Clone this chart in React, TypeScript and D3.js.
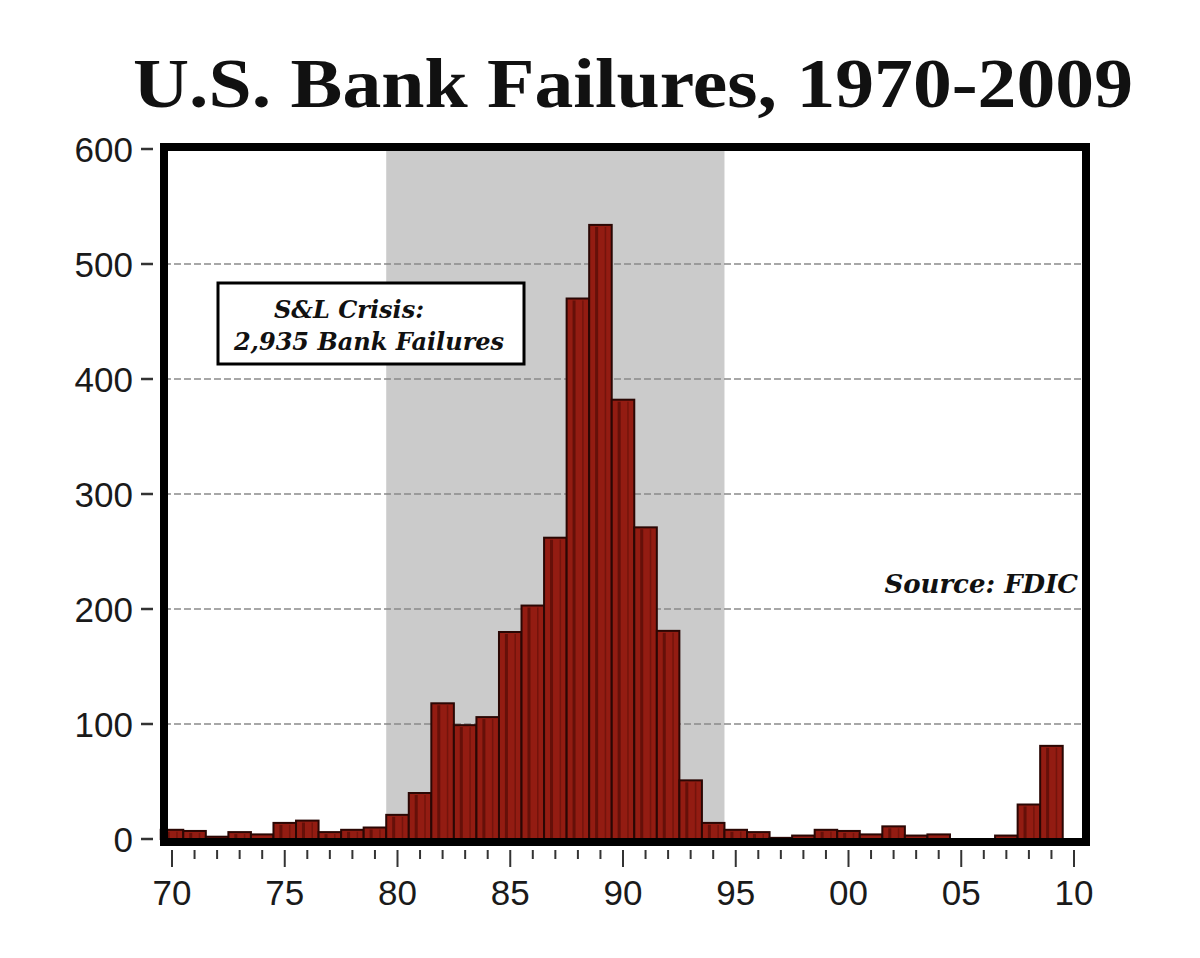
import React from "react";
import * as d3 from "d3";

const years = [1970,1971,1972,1973,1974,1975,1976,1977,1978,1979,1980,1981,1982,1983,1984,1985,1986,1987,1988,1989,1990,1991,1992,1993,1994,1995,1996,1997,1998,1999,2000,2001,2002,2003,2004,2005,2006,2007,2008,2009];
const failures = [8,7,2,6,4,14,16,6,8,10,21,40,118,99,106,180,203,262,470,534,382,271,181,51,14,8,6,1,3,8,7,4,11,3,4,0,0,3,30,81];
const yTicks = [0,100,200,300,400,500,600];
const xTickYears = [1970,1975,1980,1985,1990,1995,2000,2005,2010];
const xTickLabels = ["70","75","80","85","90","95","00","05","10"];
const minorTickYears = [1970,1971,1972,1973,1974,1975,1976,1977,1978,1979,1980,1981,1982,1983,1984,1985,1986,1987,1988,1989,1990,1991,1992,1993,1994,1995,1996,1997,1998,1999,2000,2001,2002,2003,2004,2005,2006,2007,2008,2009,2010];
const crisisStart = 1980;
const crisisEnd = 1994;

export default function App() {
  const W = 1200, H = 958;
  const x = d3.scaleLinear().domain([1970, 2010]).range([172, 1074]);
  const y = d3.scaleLinear().domain([0, 600]).range([839, 149]);
  const bw = x(1971) - x(1970);
  const left = 164, right = 1086, top = 147, bottom = 842;
  const sans = "'Liberation Sans', Arial, sans-serif";
  const serif = "'DejaVu Serif', Georgia, serif";
  return (
    <svg width={W} height={H} style={{ position: "absolute", left: 0, top: 0, background: "#fff" }}>
      <rect x={0} y={0} width={W} height={H} fill="#fff" />
      <text x={633} y={107} textAnchor="middle" fontFamily="'Liberation Serif', 'Times New Roman', serif" fontWeight="bold" fontSize={70} textLength={1000} lengthAdjust="spacingAndGlyphs" fill="#111">U.S. Bank Failures, 1970-2009</text>
      {/* crisis band */}
      <rect x={x(crisisStart) - bw / 2} y={top} width={x(crisisEnd) - x(crisisStart) + bw} height={bottom - top} fill="#cbcbcb" />
      {/* grid */}
      {yTicks.filter(t => t > 0 && t < 600).map(t => (
        <line key={"g" + t} x1={left} x2={right} y1={y(t)} y2={y(t)} stroke="#8a8a8a" strokeWidth={1.3} strokeDasharray="7,3" />
      ))}
      {/* bars */}
      {years.map((yr, i) => {
        const v = failures[i];
        const x0 = x(yr) - bw / 2;
        const yt = y(v);
        const h = y(0) - yt;
        if (h <= 0) return null;
        return (
          <g key={yr}>
            <rect x={x0} y={yt} width={bw} height={h} fill="#931c12" stroke="#2a0704" strokeWidth={2} />
            {h > 6 && (
              <>
                <line x1={x0 + bw * 0.33} x2={x0 + bw * 0.33} y1={yt + 2} y2={y(0)} stroke="#5e0f08" strokeWidth={3} opacity={0.85} />
                <line x1={x0 + bw * 0.72} x2={x0 + bw * 0.72} y1={yt + 2} y2={y(0)} stroke="#6a120a" strokeWidth={1.5} opacity={0.75} />
              </>
            )}
          </g>
        );
      })}
      {/* frame */}
      <rect x={left} y={top} width={right - left} height={bottom - top} fill="none" stroke="#000" strokeWidth={8} />
      {/* y axis ticks & labels */}
      {yTicks.map(t => (
        <g key={"y" + t}>
          <line x1={141} x2={153} y1={y(t)} y2={y(t)} stroke="#333" strokeWidth={2.5} />
          <text x={133} y={y(t)} dy="0.36em" textAnchor="end" fontFamily={sans} fontSize={35} fill="#1a1a1a">{t}</text>
        </g>
      ))}
      {/* x axis ticks */}
      {minorTickYears.map(yr => (
        <line key={"m" + yr} x1={x(yr)} x2={x(yr)} y1={850} y2={xTickYears.includes(yr) ? 867 : 859} stroke="#333" strokeWidth={2} />
      ))}
      {xTickYears.map((yr, i) => (
        <text key={"xl" + yr} x={x(yr)} y={905} textAnchor="middle" fontFamily={sans} fontSize={35} fill="#1a1a1a">{xTickLabels[i]}</text>
      ))}
      {/* annotation */}
      <rect x={218} y={283} width={306} height={81} fill="#fff" stroke="#000" strokeWidth={3} />
      <text x={349} y={318} textAnchor="middle" fontFamily={serif} fontStyle="italic" fontWeight="bold" fontSize={24} fill="#111">S&amp;L Crisis:</text>
      <text x={369} y={350} textAnchor="middle" fontFamily={serif} fontStyle="italic" fontWeight="bold" fontSize={24} fill="#111">2,935 Bank Failures</text>
      <text x={1078} y={593} textAnchor="end" fontFamily={serif} fontStyle="italic" fontWeight="bold" fontSize={26} fill="#111">Source: FDIC</text>
    </svg>
  );
}
